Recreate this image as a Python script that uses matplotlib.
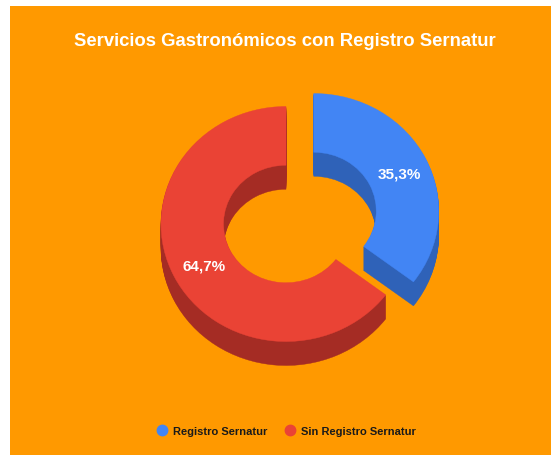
import numpy as np
import matplotlib
matplotlib.use("Agg")
import matplotlib.pyplot as plt
from matplotlib.patches import Wedge, Rectangle
from matplotlib.transforms import Affine2D
from matplotlib.lines import Line2D

TITLE = "Servicios Gastronómicos con Registro Sernatur"
LABELS = ["Registro Sernatur", "Sin Registro Sernatur"]
VALUES = [35.3, 64.7]
PCT_TXT = ["35,3%", "64,7%"]
EXPLODE = [31, 0]

TOP = ["#4285F4", "#EA4335"]
SIDE = ["#2F62B8", "#A52C24"]
BG = "#FF9900"
FONT = ["Liberation Sans", "DejaVu Sans"]

# pixel layout
W, H = 551, 456
CX, CY = 286, 225
R, HOLE, KY, DEPTH = 125, 0.5, 0.94, 24

fig = plt.figure(figsize=(W / 100, H / 100), dpi=100)
fig.patch.set_facecolor("white")
ax = fig.add_axes([0, 0, 1, 1])
ax.set_xlim(0, W); ax.set_ylim(H, 0)
ax.axis("off")
ax.add_patch(Rectangle((10, 7), W + 10, H + 10, facecolor=BG, lw=0, zorder=0))

# slice angles, clockwise from 12 o'clock
frac = np.array(VALUES) / sum(VALUES)
starts = 90 - 360 * np.concatenate([[0], np.cumsum(frac)[:-1]])
ends = starts - 360 * frac
mids = (starts + ends) / 2


def tf(i, d):
    ox = EXPLODE[i] * np.cos(np.radians(mids[i]))
    oy = EXPLODE[i] * np.sin(np.radians(mids[i]))
    return Affine2D().translate(ox, oy).scale(1, -KY).translate(CX, CY + d) + ax.transData


def wedge(i, d, color, z):
    w = Wedge((0, 0), R, ends[i], starts[i], width=R * (1 - HOLE),
              facecolor=color, edgecolor=color, lw=0.3, zorder=z)
    w.set_transform(tf(i, d))
    ax.add_patch(w)


for d in range(DEPTH, 0, -1):
    for i in range(len(VALUES)):
        wedge(i, d, SIDE[i], 2)
for i in range(len(VALUES)):
    wedge(i, 0, TOP[i], 3)

# percentage labels at the middle of each slice
rm = R * (1 + HOLE) / 2
for i in range(len(VALUES)):
    x, y = tf(i, 0).transform((rm * np.cos(np.radians(mids[i])),
                               rm * np.sin(np.radians(mids[i]))))
    x, y = ax.transData.inverted().transform((x, y))
    ax.text(x + 2, y + 2, PCT_TXT[i], color="white", fontsize=11, fontweight="bold",
            family=FONT, ha="center", va="center", zorder=5)

ax.text(285, 42, TITLE, color="white", fontsize=13.3, fontweight="bold",
        family=FONT, ha="center", va="center")

handles = [Line2D([], [], marker="o", ls="", markersize=7.5, color=c) for c in TOP]
leg = fig.legend(handles, LABELS, loc="center", bbox_to_anchor=(287 / W, 1 - 432 / H),
                 ncol=2, frameon=False, handlelength=0.8, handletextpad=0.6,
                 columnspacing=1.6, prop={"family": FONT, "weight": "bold", "size": 8})
for t in leg.get_texts():
    t.set_color("#1a1a1a")

fig.savefig("out.png", dpi=100, facecolor=fig.get_facecolor())
